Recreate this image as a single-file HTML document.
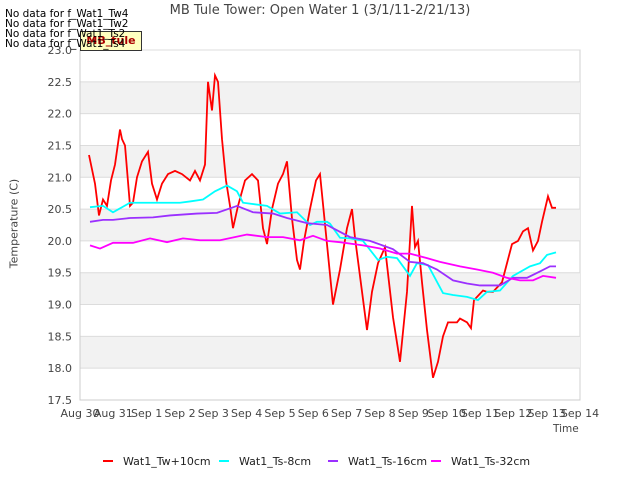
<!DOCTYPE html>
<html><head><meta charset="utf-8"><style>
body{margin:0;background:#fff;font-family:"Liberation Sans","DejaVu Sans",sans-serif}
svg text{font-family:"DejaVu Sans","Liberation Sans",sans-serif}
</style></head><body>
<svg id="c" width="640" height="480" xmlns="http://www.w3.org/2000/svg"></svg>
<script>
const yTicks=[17.5,18.0,18.5,19.0,19.5,20.0,20.5,21.0,21.5,22.0,22.5,23.0];
const xTickLabels=["Aug 30","Aug 31","Sep 1","Sep 2","Sep 3","Sep 4","Sep 5","Sep 6","Sep 7","Sep 8","Sep 9","Sep 10","Sep 11","Sep 12","Sep 13","Sep 14"];
const seriesNames=["Wat1_Tw+10cm","Wat1_Ts-8cm","Wat1_Ts-16cm","Wat1_Ts-32cm"];
const seriesColors=["#ff0000","#00ffff","#9b30ff","#ff00ff"];
const twDays=[.27,.45,.57,.69,.81,.93,1.05,1.2,1.26,1.35,1.5,1.59,1.71,1.86,2.04,2.16,2.31,2.46,2.64,2.85,3.06,3.3,3.45,3.6,3.75,3.84,3.96,4.05,4.14,4.26,4.38,4.5,4.59,4.74,4.95,5.16,5.34,5.49,5.61,5.76,5.94,6.09,6.21,6.36,6.51,6.6,6.72,6.9,7.08,7.2,7.59,7.8,8.01,8.16,8.25,8.61,8.76,8.94,9.15,9.39,9.6,9.81,9.96,10.05,10.14,10.26,10.41,10.59,10.74,10.89,11.04,11.31,11.4,11.61,11.73,11.82,12.09,12.21,12.39,12.66,12.96,13.14,13.29,13.44,13.59,13.74,13.86,14.04,14.16,14.28];
const twVals=[21.35,20.9,20.4,20.65,20.55,20.95,21.2,21.75,21.6,21.5,20.55,20.6,21.0,21.25,21.4,20.9,20.65,20.9,21.05,21.1,21.05,20.95,21.1,20.95,21.2,22.5,22.05,22.6,22.5,21.6,20.95,20.55,20.2,20.55,20.95,21.05,20.95,20.2,19.95,20.5,20.9,21.05,21.25,20.35,19.7,19.55,20.0,20.5,20.95,21.05,19.0,19.55,20.2,20.5,20.05,18.6,19.2,19.65,19.9,18.8,18.1,19.2,20.55,19.9,20.0,19.35,18.6,17.85,18.1,18.5,18.72,18.72,18.78,18.72,18.63,19.07,19.22,19.2,19.2,19.35,19.95,20.0,20.15,20.2,19.85,20.0,20.3,20.7,20.52,20.52];
const ts8Days=[.3,.69,.99,1.5,2.01,2.49,3.0,3.3,3.69,4.05,4.41,4.71,4.89,5.61,6.0,6.51,6.9,7.11,7.41,7.5,7.8,8.1,8.49,8.94,9.21,9.51,9.9,10.11,10.44,10.89,11.19,11.61,11.94,12.21,12.6,12.99,13.5,13.8,14.01,14.28];
const ts8Vals=[20.53,20.55,20.45,20.6,20.6,20.6,20.6,20.62,20.65,20.78,20.87,20.78,20.6,20.55,20.43,20.45,20.25,20.3,20.3,20.27,20.05,20.04,20.0,19.7,19.75,19.73,19.45,19.65,19.62,19.18,19.15,19.12,19.07,19.2,19.22,19.45,19.6,19.65,19.78,19.82];
const ts16Days=[.3,.69,.99,1.5,2.19,2.7,3.51,4.11,4.71,5.19,5.79,6.21,6.81,7.41,7.59,8.1,8.7,9.39,9.9,10.29,10.71,11.19,11.61,12.0,12.6,12.99,13.41,13.8,14.1,14.28];
const ts16Vals=[20.3,20.33,20.33,20.36,20.37,20.4,20.43,20.44,20.55,20.45,20.43,20.36,20.28,20.25,20.2,20.06,20.0,19.87,19.67,19.65,19.55,19.38,19.33,19.3,19.3,19.42,19.42,19.52,19.6,19.6];
const ts32Days=[.3,.6,.99,1.59,2.1,2.61,3.09,3.6,4.2,5.01,5.61,6.09,6.6,6.99,7.41,7.8,8.49,9.0,9.51,9.9,10.41,10.8,11.4,11.91,12.39,12.81,13.2,13.59,13.89,14.28];
const ts32Vals=[19.93,19.88,19.97,19.97,20.04,19.98,20.04,20.01,20.01,20.1,20.06,20.06,20.01,20.08,20.0,19.98,19.93,19.88,19.8,19.8,19.73,19.67,19.6,19.55,19.5,19.42,19.38,19.38,19.45,19.42];
const svg=document.getElementById('c');const NS="http://www.w3.org/2000/svg";
const L=80,R=580,T=50,B=400;
const xs=d=>L+d*(R-L)/15;const ys=v=>B-(v-17.5)*(B-T)/5.5;
function mk(t,a,p){const e=document.createElementNS(NS,t);for(const k in a)e.setAttribute(k,a[k]);(p||svg).appendChild(e);return e;}
const bg=mk('rect',{x:L,y:T,width:R-L,height:B-T,fill:'#ffffff',stroke:'#d0d0d0'});


for(let i=0;i<yTicks.length-1;i++){if(i%2===1){const b=mk('rect',{x:L,y:ys(yTicks[i+1]),width:R-L,height:ys(yTicks[i])-ys(yTicks[i+1]),fill:'#f2f2f2'});

}}
yTicks.forEach(v=>{const g=mk('line',{x1:L,x2:R,y1:ys(v),y2:ys(v),stroke:'#dcdcdc'});


const t=mk('text',{x:L-8,y:ys(v)+4,'text-anchor':'end','font-size':11,fill:'#444'});t.textContent=v.toFixed(1);

});
mk('line',{x1:L,x2:L,y1:T,y2:B,stroke:'#ccc'});mk('line',{x1:L,x2:R,y1:B,y2:B,stroke:'#ccc'});
xTickLabels.forEach((s,i)=>{const t=mk('text',{x:xs(i),y:417,'text-anchor':'middle','font-size':11,fill:'#444'});t.textContent=s;

});
const days=[twDays,ts8Days,ts16Days,ts32Days],vals=[twVals,ts8Vals,ts16Vals,ts32Vals];
days.forEach((d,s)=>{const p=mk('polyline',{points:d.map((x,i)=>xs(x)+','+ys(vals[s][i])).join(' '),fill:'none',stroke:seriesColors[s],'stroke-width':1.8});

});
const lx=[103,219,328,431];
seriesNames.forEach((n,i)=>{const l=mk('line',{x1:lx[i],x2:lx[i]+10,y1:461,y2:461,stroke:seriesColors[i],'stroke-width':2});


const t=mk('text',{x:lx[i]+20,y:465,'font-size':11,fill:'#222'});t.textContent=n;

});
</script>
<div style="position:absolute;left:0;top:3px;width:640px;text-align:center;font-family:'DejaVu Sans',sans-serif;font-size:13px;color:#444">MB Tule Tower: Open Water 1 (3/1/11-2/21/13)</div>
<div style="position:absolute;left:-36px;top:217px;width:100px;text-align:center;transform:rotate(-90deg);font-family:'DejaVu Sans',sans-serif;font-size:11px;color:#444">Temperature (C)</div>
<div style="position:absolute;left:553px;top:423px;font-family:'DejaVu Sans',sans-serif;font-size:10.5px;color:#444">Time</div>
<div style="position:absolute;left:80px;top:31px;width:60px;height:18px;background:#ffffc0;border:1px solid #333;font-family:'DejaVu Sans',sans-serif;font-size:11px;font-weight:bold;color:#a00;text-align:center;line-height:18px">MB_tule</div>
<div style="position:absolute;left:5px;top:9px;font-family:'DejaVu Sans',sans-serif;font-size:10.5px;line-height:10px;color:#000">No data for f_Wat1_Tw4<br>No data for f_Wat1_Tw2<br>No data for f_Wat1_Ts2<br>No data for f_Wat1_Ts4</div>
</body></html>
